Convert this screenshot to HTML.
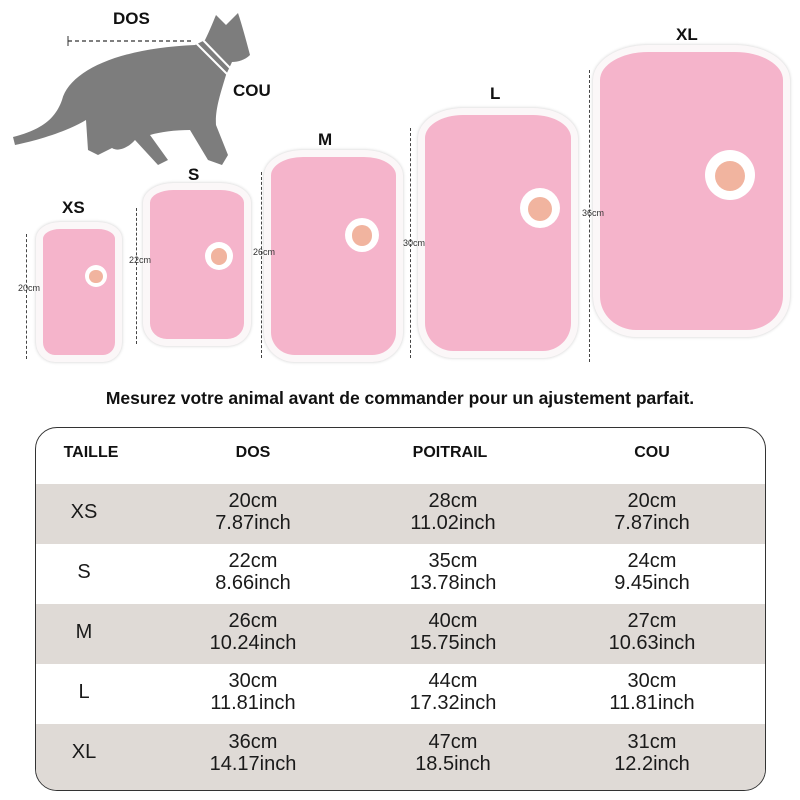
<!DOCTYPE html><html><head><style>
body{margin:0;width:800px;height:800px;background:#fff;position:relative;overflow:hidden;font-family:"Liberation Sans",sans-serif}
.a{position:absolute}
.lbl{position:absolute;font-weight:bold;font-size:17px;color:#111}
.shirt{position:absolute;background:#f5b4cb;border:7px solid #fbf7f8;border-radius:28% 28% 22% 22%/12% 12% 14% 14%;box-sizing:border-box;box-shadow:0 0 3px #ccc}
.badge{position:absolute;border-radius:50%;background:#fff}
.badge:after{content:"";position:absolute;left:20%;top:22%;width:60%;height:60%;border-radius:50%;background:#f1b49f}
.vl{position:absolute;border-left:1.5px dashed #444}
.cm{position:absolute;font-size:9px;color:#333}
.tbl{position:absolute;left:35px;top:427px;width:731px;height:364px;border:1.5px solid #333;border-radius:22px;box-sizing:border-box;overflow:hidden}
.row{position:absolute;left:0;width:100%;height:60px}
.c{position:absolute;text-align:center;width:200px;font-size:20px;color:#1a1a1a;line-height:22px;font-family:"Liberation Sans",sans-serif}
.h{position:absolute;font-weight:bold;font-size:16px;color:#111;text-align:center;width:200px;top:16px}
</style></head><body>
<svg class="a" style="left:0;top:0" width="280" height="180">
<path d="M13,137 C40,130 55,120 62,100 C70,70 120,48 195,45 L205,40 C210,30 213,22 216,15 L226,25 L238,13 C242,25 246,40 250,55 C245,60 238,62 232,62 L226,75 C220,95 215,110 216,125 L228,155 L222,165 L208,160 L190,130 C175,130 160,132 150,135 L168,160 L158,165 L135,140 C128,148 118,152 112,148 L98,155 L88,150 L86,120 C70,130 40,140 15,145 Z" fill="#7d7d7d"/>
<line x1="68" y1="41" x2="192" y2="41" stroke="#333" stroke-dasharray="4,3" stroke-width="1.2"/>
<line x1="68" y1="36" x2="68" y2="46" stroke="#333"/>
<path d="M195,42 L228,75 M201,38 L232,70" stroke="#fff" stroke-width="2"/>
</svg>
<div class="lbl" style="left:113px;top:9px">DOS</div>
<div class="lbl" style="left:233px;top:81px">COU</div>
<div class="lbl" style="left:62px;top:198px">XS</div>
<div class="lbl" style="left:188px;top:165px">S</div>
<div class="lbl" style="left:318px;top:130px">M</div>
<div class="lbl" style="left:490px;top:84px">L</div>
<div class="lbl" style="left:676px;top:25px">XL</div>

<div class="shirt" style="left:36px;top:222px;width:86px;height:140px"></div>
<div class="badge" style="left:85px;top:265px;width:22px;height:22px"></div>
<div class="vl" style="left:26px;top:234px;height:125px"></div><div class="cm" style="left:18px;top:283px">20cm</div>
<div class="shirt" style="left:143px;top:183px;width:108px;height:163px"></div>
<div class="badge" style="left:205px;top:242px;width:28px;height:28px"></div>
<div class="vl" style="left:136px;top:208px;height:136px"></div><div class="cm" style="left:129px;top:255px">22cm</div>
<div class="shirt" style="left:264px;top:150px;width:139px;height:212px"></div>
<div class="badge" style="left:345px;top:218px;width:34px;height:34px"></div>
<div class="vl" style="left:261px;top:172px;height:186px"></div><div class="cm" style="left:253px;top:247px">26cm</div>
<div class="shirt" style="left:418px;top:108px;width:160px;height:250px"></div>
<div class="badge" style="left:520px;top:188px;width:40px;height:40px"></div>
<div class="vl" style="left:410px;top:128px;height:230px"></div><div class="cm" style="left:403px;top:238px">30cm</div>
<div class="shirt" style="left:593px;top:45px;width:197px;height:292px"></div>
<div class="badge" style="left:705px;top:150px;width:50px;height:50px"></div>
<div class="vl" style="left:589px;top:70px;height:292px"></div><div class="cm" style="left:582px;top:208px">36cm</div>

<div class="a" style="left:0;width:800px;top:388px;text-align:center;font-weight:bold;font-size:17.5px;color:#111">Mesurez votre animal avant de commander pour un ajustement parfait.</div>

<div class="tbl">
<div class="h" style="left:-45px;width:200px">TAILLE</div>
<div class="h" style="left:117px">DOS</div>
<div class="h" style="left:314px">POITRAIL</div>
<div class="h" style="left:516px">COU</div>
<div class="row" style="top:56px;background:#dfdad6"></div>
<div class="row" style="top:176px;background:#dfdad6"></div>
<div class="row" style="top:296px;height:70px;background:#dfdad6"></div>
</div>
<div class="a" style="left:35px;top:427px;width:731px;height:364px">
<div class="c" style="left:-51px;top:74px">XS</div>
<div class="c" style="left:-51px;top:134px">S</div>
<div class="c" style="left:-51px;top:194px">M</div>
<div class="c" style="left:-51px;top:254px">L</div>
<div class="c" style="left:-51px;top:314px">XL</div>

<div class="c" style="left:118px;top:63px">20cm<br>7.87inch</div>
<div class="c" style="left:118px;top:123px">22cm<br>8.66inch</div>
<div class="c" style="left:118px;top:183px">26cm<br>10.24inch</div>
<div class="c" style="left:118px;top:243px">30cm<br>11.81inch</div>
<div class="c" style="left:118px;top:304px">36cm<br>14.17inch</div>

<div class="c" style="left:318px;top:63px">28cm<br>11.02inch</div>
<div class="c" style="left:318px;top:123px">35cm<br>13.78inch</div>
<div class="c" style="left:318px;top:183px">40cm<br>15.75inch</div>
<div class="c" style="left:318px;top:243px">44cm<br>17.32inch</div>
<div class="c" style="left:318px;top:304px">47cm<br>18.5inch</div>

<div class="c" style="left:517px;top:63px">20cm<br>7.87inch</div>
<div class="c" style="left:517px;top:123px">24cm<br>9.45inch</div>
<div class="c" style="left:517px;top:183px">27cm<br>10.63inch</div>
<div class="c" style="left:517px;top:243px">30cm<br>11.81inch</div>
<div class="c" style="left:517px;top:304px">31cm<br>12.2inch</div>
</div>
</body></html>
